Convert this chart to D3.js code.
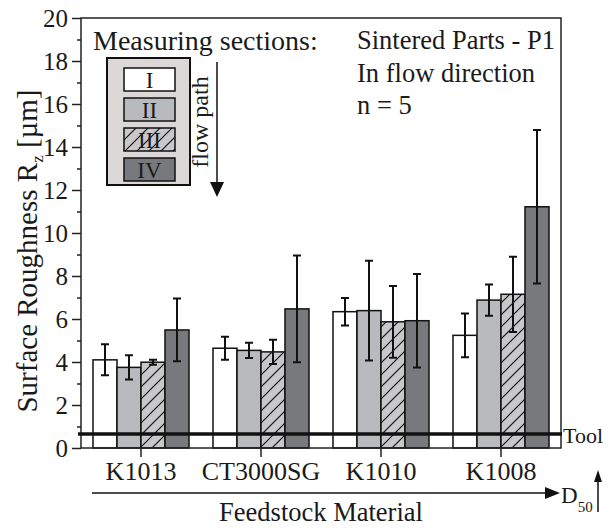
<!DOCTYPE html>
<html>
<head>
<meta charset="utf-8">
<script src="https://cdn.jsdelivr.net/npm/d3@7"></script>
<style>
body{margin:0;background:#fff;}
text{font-family:"Liberation Serif","Times New Roman",Times,"DejaVu Serif",serif;fill:#1a1a1a;}
</style>
</head>
<body>
<div id="main"></div>
<script>
// feedstock materials (x categories) and measuring sections (series)
var categories = ["K1013", "CT3000SG", "K1010", "K1008"];
var sections = ["I", "II", "III", "IV"];

// mean Rz per section, one entry per material
var valI   = [4.10, 4.64, 6.34, 5.24];
var valII  = [3.75, 4.54, 6.39, 6.88];
var valIII = [3.99, 4.47, 5.87, 7.15];
var valIV  = [5.49, 6.47, 5.92, 11.22];
// standard deviation (error bars)
var errI   = [0.72, 0.53, 0.64, 1.02];
var errII  = [0.56, 0.35, 2.32, 0.73];
var errIII = [0.12, 0.56, 1.67, 1.75];
var errIV  = [1.46, 2.48, 2.17, 3.57];

var yTicks = [0, 2, 4, 6, 8, 10, 12, 14, 16, 18, 20];
var yMinor = [1, 3, 5, 7, 9, 11, 13, 15, 17, 19];
var toolValue = 0.65;
var infoLines = ["Sintered Parts - P1", "In flow direction", "n = 5"];

var vals = [valI, valII, valIII, valIV];
var errs = [errI, errII, errIII, errIV];
var fills = ["#ffffff", "#b9babd", "url(#hatch)", "#78797d"];

var data = [];
for (var c = 0; c < categories.length; c++) {
  for (var s = 0; s < sections.length; s++) {
    data.push({cat: categories[c], sec: sections[s], v: vals[s][c], e: errs[s][c], fill: fills[s]});
  }
}

var width = 614, height = 528;
var svg = d3.select("#main").append("svg")
  .attr("width", width).attr("height", height);

var defs = svg.append("defs");
var pat = defs.append("pattern")
  .attr("id", "hatch").attr("patternUnits", "userSpaceOnUse")
  .attr("width", 12).attr("height", 12);
pat.append("rect").attr("width", 12).attr("height", 12).attr("fill", "#c8c8ca");
pat.append("path").attr("d", "M-1,13 L13,-1 M-2,2 L2,-2 M10,14 L14,10")
  .attr("stroke", "#111").attr("stroke-width", 1.2);

var pLeft = 81, pRight = 561, pTop = 18, pBottom = 448;
var y = d3.scaleLinear().domain([0, 20]).range([pBottom, pTop]);
var x0 = d3.scaleBand().domain(categories).range([pLeft, pRight]);
var x1 = d3.scaleBand().domain(sections).range([0, x0.bandwidth()]).paddingOuter(0.5);

// bars
var bars = svg.append("g");
bars.selectAll("rect").data(data).enter().append("rect")
  .attr("x", function(d){ return x0(d.cat) + x1(d.sec); })
  .attr("y", function(d){ return y(d.v); })
  .attr("width", x1.bandwidth())
  .attr("height", function(d){ return y(0) - y(d.v); })
  .attr("fill", function(d){ return d.fill; })
  .attr("stroke", "#111").attr("stroke-width", 1.5);

// error bars
var eb = svg.append("g").attr("stroke", "#111").attr("stroke-width", 2);
eb.selectAll("path").data(data).enter().append("path")
  .attr("fill", "none")
  .attr("d", function(d){
    var cx = x0(d.cat) + x1(d.sec) + x1.bandwidth() / 2;
    var t = y(d.v + d.e), b = y(d.v - d.e);
    return "M" + (cx - 4) + "," + t + "H" + (cx + 4) + "M" + cx + "," + t + "V" + b + "M" + (cx - 4) + "," + b + "H" + (cx + 4);
  });

// frame
svg.append("rect").attr("x", pLeft).attr("y", pTop)
  .attr("width", pRight - pLeft).attr("height", pBottom - pTop)
  .attr("fill", "none").attr("stroke", "#222").attr("stroke-width", 1.5);

// y axis
var yAxis = d3.axisLeft(y).tickValues(yTicks).tickSize(9).tickPadding(4);
var ga = svg.append("g").attr("transform", "translate(" + pLeft + ",0)").call(yAxis);
ga.attr("font-family", null).attr("font-size", null);
ga.select(".domain").remove();
ga.selectAll("line").attr("stroke", "#222").attr("stroke-width", 1.5);
ga.selectAll("text").style("font-size", "25px").attr("fill", "#1a1a1a");
var gm = svg.append("g").attr("transform", "translate(" + pLeft + ",0)")
  .call(d3.axisLeft(y).tickValues(yMinor).tickSize(4).tickFormat(""));
gm.select(".domain").remove();
gm.selectAll("line").attr("stroke", "#222").attr("stroke-width", 1.5);

// x axis
var xAxis = d3.axisBottom(x0).tickSize(9).tickPadding(5);
var gx = svg.append("g").attr("transform", "translate(0," + pBottom + ")").call(xAxis);
gx.attr("font-family", null).attr("font-size", null);
gx.select(".domain").remove();
gx.selectAll("line").attr("stroke", "#222").attr("stroke-width", 1.5);
gx.selectAll("text").style("font-size", "26px").attr("fill", "#1a1a1a");

// tool line
svg.append("line").attr("x1", pLeft - 3).attr("x2", pRight + 1)
  .attr("y1", y(toolValue)).attr("y2", y(toolValue))
  .attr("stroke", "#111").attr("stroke-width", 3.5);
svg.append("text").attr("x", pRight + 2).attr("y", y(toolValue) + 9)
  .style("font-size", "22px").text("Tool");

// axis titles
var yl = svg.append("text").attr("transform", "translate(37,251) rotate(-90)")
  .attr("text-anchor", "middle").style("font-size", "29px");
yl.append("tspan").text("Surface Roughness R");
yl.append("tspan").attr("dy", 6).style("font-size", "17px").text("z");
yl.append("tspan").attr("dy", -6).text(" [\u00b5m]");

svg.append("text").attr("x", 321).attr("y", 521).attr("text-anchor", "middle")
  .style("font-size", "26.5px").text("Feedstock Material");

// D50 arrow
svg.append("line").attr("x1", 92).attr("x2", 547).attr("y1", 493).attr("y2", 493)
  .attr("stroke", "#111").attr("stroke-width", 1.5);
svg.append("path").attr("d", "M545,487 L560,493 L545,499 Z").attr("fill", "#111");
var dt = svg.append("text").attr("x", 561).attr("y", 503).style("font-size", "23px");
dt.append("tspan").text("D");
dt.append("tspan").attr("dy", 9).style("font-size", "15px").text("50");
svg.append("line").attr("x1", 598).attr("x2", 598).attr("y1", 480).attr("y2", 512)
  .attr("stroke", "#111").attr("stroke-width", 1.5);
svg.append("path").attr("d", "M594,482 L598,470 L602,482 Z").attr("fill", "#111");

// info text
svg.selectAll(".info").data(infoLines).enter().append("text")
  .attr("class", "info").attr("x", 357)
  .attr("y", function(d, i){ return 49 + i * 32.5; })
  .style("font-size", "26.5px").text(function(d){ return d; });

// legend
svg.append("text").attr("x", 93).attr("y", 50).style("font-size", "28px").text("Measuring sections:");
var lg = svg.append("g");
lg.append("rect").attr("x", 107).attr("y", 58).attr("width", 83).attr("height", 127)
  .attr("fill", "#dcd8d8").attr("stroke", "#111").attr("stroke-width", 2);
var ly = d3.scaleBand().domain(sections).range([68, 181]).paddingInner(7 / 30);
lg.selectAll(".lb").data(sections).enter().append("rect")
  .attr("x", 124).attr("y", function(d){ return ly(d); })
  .attr("width", 51).attr("height", ly.bandwidth())
  .attr("fill", function(d, i){ return fills[i]; })
  .attr("stroke", "#111").attr("stroke-width", 1.5);
lg.selectAll(".lt").data(sections).enter().append("text")
  .attr("x", 149.5).attr("y", function(d){ return ly(d) + ly.bandwidth() / 2 + 8; })
  .attr("text-anchor", "middle").style("font-size", "23px").text(function(d){ return d; });

// flow path arrow
svg.append("text").attr("transform", "translate(208,122) rotate(-90)")
  .attr("text-anchor", "middle").style("font-size", "24px").text("flow path");
svg.append("line").attr("x1", 217).attr("x2", 217).attr("y1", 62).attr("y2", 184)
  .attr("stroke", "#111").attr("stroke-width", 1.5);
svg.append("path").attr("d", "M210,182 L217,197 L224,182 Z").attr("fill", "#111");
</script>
</body>
</html>
